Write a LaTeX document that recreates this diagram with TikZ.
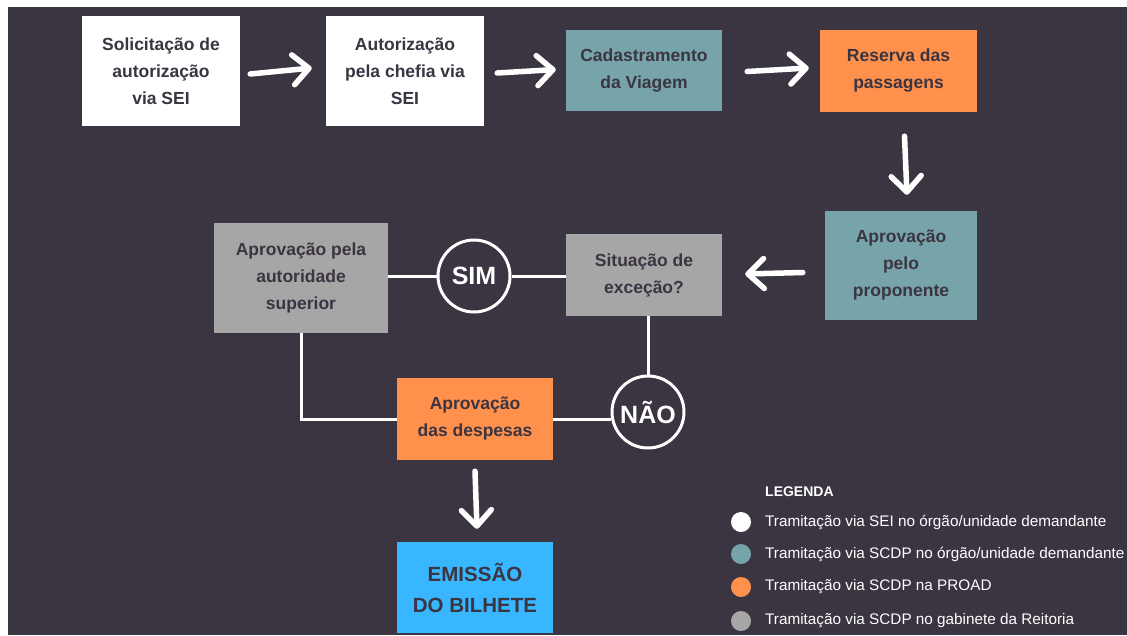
\documentclass[tikz,border=0pt]{standalone}
\usepackage{fontspec}
\setmainfont{Liberation Sans}
\usetikzlibrary{arrows.meta,calc}
\definecolor{bgdark}{HTML}{3B3441}
\definecolor{tealbox}{HTML}{77A4AA}
\definecolor{orangebox}{HTML}{FF914D}
\definecolor{graybox}{HTML}{A6A6A6}
\definecolor{bluebox}{HTML}{38B6FF}
\begin{document}
\begin{tikzpicture}[x=1pt,y=-1pt,
  box/.style={rectangle, inner sep=0pt, align=center, text=bgdark,
    font=\fontsize{17.5}{27}\selectfont\bfseries},
  whitebox/.style={box, fill=white, minimum width=158pt, minimum height=110pt},
  tealstep/.style={box, fill=tealbox},
  orangestep/.style={box, fill=orangebox},
  graystep/.style={box, fill=graybox},
  decision/.style={circle, draw=white, line width=3pt, minimum size=72pt, inner sep=0pt,
    text=white, font=\fontsize{25}{25}\selectfont\bfseries},
  handarrow/.style={white, line width=5.5pt, line cap=round, line join=round,
    -{Straight Barb[length=16pt, width=30pt, round]}},
  link/.style={white, line width=3pt},
  legdot/.style={circle, inner sep=0pt, minimum size=20pt},
  legtext/.style={anchor=west, text=white, inner sep=0pt, font=\fontsize{15.3}{18}\selectfont}
]
\useasboundingbox (0,0) rectangle (1127,635);
\fill[white] (0,0) rectangle (1127,635);
\fill[bgdark] (8,7) rectangle (1127,635);

% boxes
\node[whitebox] (b1) at (161,71) {Solicitação de\\autorização\\via SEI};
\node[whitebox] (b2) at (405,71) {Autorização\\pela chefia via\\SEI};
\node[tealstep, minimum width=156pt, minimum height=81pt] (b3) at (644,70.5) {Cadastramento\\da Viagem};
\node[orangestep, minimum width=157pt, minimum height=82pt] (b4) at (898.5,71) {Reserva das\\passagens};
\node[tealstep, minimum width=152pt, minimum height=109pt] (b5) at (901,265.5) {Aprovação\\pelo\\proponente};
\node[graystep, minimum width=156pt, minimum height=82pt] (b6) at (644,275) {Situação de\\exceção?};
\node[graystep, minimum width=174pt, minimum height=110pt] (b7) at (301,278) {Aprovação pela\\autoridade\\superior};
\node[orangestep, minimum width=156pt, minimum height=82pt] (b8) at (475,419) {Aprovação\\das despesas};
\node[box, fill=bluebox, minimum width=156pt, minimum height=91pt,
  font=\fontsize{20.5}{31}\selectfont\bfseries] (b9) at (475,587.5) {EMISSÃO\\DO BILHETE};

\node[decision] (sim) at (474,276) {SIM};
\node[decision] (nao) at (648,412) {NÃO};

% plain connectors
\draw[link] (b7.east |- sim) -- (sim.west);
\draw[link] (sim.east) -- (b6.west |- sim);
\draw[link] (nao.north |- b6.south) -- (nao.north);
\draw[link] (nao.west |- b8) -- (b8.east);
\draw[link] (b7.south) -- (b7.south |- b8) -- (b8.west);

% hand-drawn arrows
\draw[handarrow] ($(b1.east)+(10,3)$) -- ($(b2.west)+(-14,-3)$);
\draw[handarrow] ($(b2.east)+(13,2)$) -- ($(b3.west)+(-10,-1)$);
\draw[handarrow] ($(b3.east)+(25,1)$) -- ($(b4.west)+(-11,-3)$);
\draw[handarrow] ($(b4.south)+(6,24)$) -- ($(b5.north)+(6,-16)$);
\draw[handarrow] ($(b5.west)+(-22,7)$) -- ($(b6.east)+(23,-1)$);
\draw[handarrow] ($(b8.south)+(0,11)$) -- ($(b9.north)+(2,-13)$);

% legend
\node[anchor=west, text=white, inner sep=0pt, font=\fontsize{14}{17}\selectfont\bfseries] (legtitle) at (765,492) {LEGENDA};
\node[legdot, fill=white] (d1) at (741,522) {};
\node[legdot, fill=tealbox] (d2) at (741,554) {};
\node[legdot, fill=orangebox] (d3) at (741,587) {};
\node[legdot, fill=graybox] (d4) at (741,621) {};
\node[legtext] (t1) at (765,522) {Tramitação via SEI no órgão/unidade demandante};
\node[legtext] (t2) at (765,554) {Tramitação via SCDP no órgão/unidade demandante};
\node[legtext] (t3) at (765,587) {Tramitação via SCDP na PROAD};
\node[legtext] (t4) at (765,621) {Tramitação via SCDP no gabinete da Reitoria};
\end{tikzpicture}
\end{document}
